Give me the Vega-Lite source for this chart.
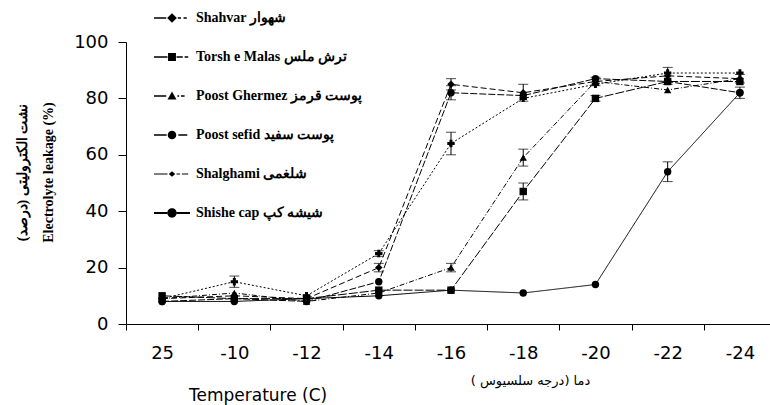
{
  "$schema": "https://vega.github.io/schema/vega-lite/v6.json",
  "autosize": {"type": "none"},
  "width": 644,
  "height": 282,
  "padding": {"left": 126, "top": 42, "right": 0, "bottom": 81},
  "background": "white",
  "config": {"view": {"stroke": null}},
  "title": {"text": "Temperature (C)", "orient": "bottom", "anchor": "start", "dx": 174, "offset": 1, "font": "DejaVu Sans", "fontSize": 17, "fontWeight": "normal", "color": "black"},
  "data": {"values": [
    {"series": "Shahvar  شهوار", "t": "25", "v": 9, "err": 0},
    {"series": "Shahvar  شهوار", "t": "-10", "v": 10, "err": 0},
    {"series": "Shahvar  شهوار", "t": "-12", "v": 9, "err": 0},
    {"series": "Shahvar  شهوار", "t": "-14", "v": 20, "err": 1.5},
    {"series": "Shahvar  شهوار", "t": "-16", "v": 85, "err": 2},
    {"series": "Shahvar  شهوار", "t": "-18", "v": 82, "err": 3},
    {"series": "Shahvar  شهوار", "t": "-20", "v": 86, "err": 1.5},
    {"series": "Shahvar  شهوار", "t": "-22", "v": 88, "err": 3},
    {"series": "Shahvar  شهوار", "t": "-24", "v": 87, "err": 1.5},
    {"series": "Torsh e Malas  ترش ملس", "t": "25", "v": 10, "err": 0},
    {"series": "Torsh e Malas  ترش ملس", "t": "-10", "v": 9, "err": 0},
    {"series": "Torsh e Malas  ترش ملس", "t": "-12", "v": 9, "err": 0},
    {"series": "Torsh e Malas  ترش ملس", "t": "-14", "v": 12, "err": 0},
    {"series": "Torsh e Malas  ترش ملس", "t": "-16", "v": 12, "err": 0},
    {"series": "Torsh e Malas  ترش ملس", "t": "-18", "v": 47, "err": 3},
    {"series": "Torsh e Malas  ترش ملس", "t": "-20", "v": 80, "err": 1},
    {"series": "Torsh e Malas  ترش ملس", "t": "-22", "v": 86, "err": 0},
    {"series": "Torsh e Malas  ترش ملس", "t": "-24", "v": 86, "err": 0},
    {"series": "Poost Ghermez  پوست قرمز", "t": "25", "v": 9, "err": 0},
    {"series": "Poost Ghermez  پوست قرمز", "t": "-10", "v": 11, "err": 0},
    {"series": "Poost Ghermez  پوست قرمز", "t": "-12", "v": 8, "err": 0},
    {"series": "Poost Ghermez  پوست قرمز", "t": "-14", "v": 11, "err": 0},
    {"series": "Poost Ghermez  پوست قرمز", "t": "-16", "v": 20, "err": 1.5},
    {"series": "Poost Ghermez  پوست قرمز", "t": "-18", "v": 59, "err": 3},
    {"series": "Poost Ghermez  پوست قرمز", "t": "-20", "v": 86, "err": 0},
    {"series": "Poost Ghermez  پوست قرمز", "t": "-22", "v": 83, "err": 0},
    {"series": "Poost Ghermez  پوست قرمز", "t": "-24", "v": 87, "err": 0},
    {"series": "Poost sefid  پوست سفید", "t": "25", "v": 8, "err": 0},
    {"series": "Poost sefid  پوست سفید", "t": "-10", "v": 9, "err": 0},
    {"series": "Poost sefid  پوست سفید", "t": "-12", "v": 8, "err": 0},
    {"series": "Poost sefid  پوست سفید", "t": "-14", "v": 15, "err": 0},
    {"series": "Poost sefid  پوست سفید", "t": "-16", "v": 82, "err": 2.5},
    {"series": "Poost sefid  پوست سفید", "t": "-18", "v": 81, "err": 0},
    {"series": "Poost sefid  پوست سفید", "t": "-20", "v": 87, "err": 0},
    {"series": "Poost sefid  پوست سفید", "t": "-22", "v": 86, "err": 0},
    {"series": "Poost sefid  پوست سفید", "t": "-24", "v": 82, "err": 2},
    {"series": "Shalghami  شلغمی", "t": "25", "v": 9, "err": 0},
    {"series": "Shalghami  شلغمی", "t": "-10", "v": 15, "err": 2},
    {"series": "Shalghami  شلغمی", "t": "-12", "v": 10, "err": 0},
    {"series": "Shalghami  شلغمی", "t": "-14", "v": 25, "err": 1},
    {"series": "Shalghami  شلغمی", "t": "-16", "v": 64, "err": 4},
    {"series": "Shalghami  شلغمی", "t": "-18", "v": 80, "err": 0},
    {"series": "Shalghami  شلغمی", "t": "-20", "v": 85, "err": 0},
    {"series": "Shalghami  شلغمی", "t": "-22", "v": 89, "err": 0},
    {"series": "Shalghami  شلغمی", "t": "-24", "v": 89, "err": 0},
    {"series": "Shishe cap  شیشه کپ", "t": "25", "v": 8, "err": 0},
    {"series": "Shishe cap  شیشه کپ", "t": "-10", "v": 8, "err": 0},
    {"series": "Shishe cap  شیشه کپ", "t": "-12", "v": 9, "err": 0},
    {"series": "Shishe cap  شیشه کپ", "t": "-14", "v": 10, "err": 0},
    {"series": "Shishe cap  شیشه کپ", "t": "-16", "v": 12, "err": 0},
    {"series": "Shishe cap  شیشه کپ", "t": "-18", "v": 11, "err": 0},
    {"series": "Shishe cap  شیشه کپ", "t": "-20", "v": 14, "err": 0},
    {"series": "Shishe cap  شیشه کپ", "t": "-22", "v": 54, "err": 3.5},
    {"series": "Shishe cap  شیشه کپ", "t": "-24", "v": 82, "err": 0}
  ]},
  "encoding": {
    "x": {
      "field": "t", "type": "ordinal",
      "scale": {"type": "band", "domain": ["25", "-10", "-12", "-14", "-16", "-18", "-20", "-22", "-24"], "range": [0, 650], "paddingInner": 0, "paddingOuter": 0},
      "axis": {
        "title": "دما (درجه سلسیوس )", "titleX": 404, "titleY": 56, "titleBaseline": "middle", "titleAlign": "center",
        "titleFont": "DejaVu Sans", "titleFontSize": 13, "titleFontWeight": "normal", "titleColor": "black",
        "labelAngle": 0, "labelFont": "DejaVu Sans", "labelFontSize": 18, "labelColor": "black", "labelPadding": 14,
        "tickBand": "extent", "tickSize": 6, "tickColor": "black", "domainColor": "black", "grid": false
      }
    },
    "y": {
      "field": "v", "type": "quantitative",
      "scale": {"domain": [0, 100], "nice": false},
      "axis": {
        "values": [0, 20, 40, 60, 80, 100],
        "title": ["نشت الکترولیتی (درصد)", "Electrolyte leakage (%)"],
        "titleX": -104, "titleY": 130, "titleAngle": -90, "titleBaseline": "middle", "titleAlign": "center", "titleLineHeight": 26,
        "titleFont": "Liberation Serif", "titleFontSize": 14, "titleFontWeight": "bold", "titleColor": "black",
        "labelFont": "DejaVu Sans", "labelFontSize": 18, "labelColor": "black", "labelPadding": 10,
        "tickSize": 8, "tickColor": "black", "domainColor": "black", "grid": false
      }
    }
  },
  "layer": [
    {
      "mark": {"type": "line", "color": "black", "strokeWidth": 1},
      "encoding": {
        "detail": {"field": "series"},
        "strokeDash": {
          "field": "series", "type": "nominal", "legend": null,
          "scale": {"domain": ["Shahvar  شهوار", "Torsh e Malas  ترش ملس", "Poost Ghermez  پوست قرمز", "Poost sefid  پوست سفید", "Shalghami  شلغمی", "Shishe cap  شیشه کپ"],
                    "range": [[6, 3], [9, 2], [5, 2, 1, 2], [7, 2], [2, 2], [1, 0]]}
        }
      }
    },
    {
      "transform": [{"filter": "datum.err > 0"}],
      "mark": {"type": "errorbar", "color": "black", "ticks": {"size": 10, "color": "black"}},
      "encoding": {"yError": {"field": "err"}}
    },
    {
      "mark": {"type": "point", "filled": true, "color": "black", "size": 55, "opacity": 1},
      "encoding": {
        "shape": {
          "field": "series", "type": "nominal", "legend": null,
          "scale": {"domain": ["Shahvar  شهوار", "Torsh e Malas  ترش ملس", "Poost Ghermez  پوست قرمز", "Poost sefid  پوست سفید", "Shalghami  شلغمی", "Shishe cap  شیشه کپ"],
                    "range": ["diamond", "square", "triangle-up", "circle", "cross", "circle"]}
        }
      }
    },
    {
      "mark": {"type": "point", "filled": true, "color": "black", "size": 1296, "opacity": 0},
      "encoding": {
        "shape": {
          "field": "series", "type": "nominal",
          "scale": {"domain": ["Shahvar  شهوار", "Torsh e Malas  ترش ملس", "Poost Ghermez  پوست قرمز", "Poost sefid  پوست سفید", "Shalghami  شلغمی", "Shishe cap  شیشه کپ"],
                    "range": [
                      "M-1,-0.035H-0.32V0.035H-1Z M-0.27,0L0,-0.27L0.27,0L0,0.27Z M0.32,-0.035H0.5V0.035H0.32Z M0.64,-0.035H0.82V0.035H0.64Z",
                      "M-1,-0.035H-0.25V0.035H-1Z M-0.22,-0.22H0.22V0.22H-0.22Z M0.25,-0.035H0.6V0.035H0.25Z M0.7,-0.035H0.9V0.035H0.7Z",
                      "M-1,-0.035H-0.32V0.035H-1Z M0,-0.25L0.25,0.2L-0.25,0.2Z M0.3,-0.035H0.4V0.035H0.3Z M0.5,-0.035H0.7V0.035H0.5Z",
                      "M-1,-0.035H-0.3V0.035H-1Z M-0.24,0A0.24,0.24 0 1,0 0.24,0A0.24,0.24 0 1,0 -0.24,0Z M0.35,-0.035H0.85V0.035H0.35Z",
                      "M-1,-0.03H-0.25V0.03H-1Z M-0.18,0L0,-0.15L0.18,0L0,0.15Z M0.25,-0.03H0.45V0.03H0.25Z M0.55,-0.03H0.9V0.03H0.55Z",
                      "M-1,-0.05H-0.25V0.05H-1Z M-0.26,0A0.26,0.26 0 1,0 0.26,0A0.26,0.26 0 1,0 -0.26,0Z M0.25,-0.05H1V0.05H0.25Z"
                    ]},
          "legend": {
            "title": null, "orient": "none", "legendX": 28, "legendY": -42,
            "symbolSize": 1296, "symbolOpacity": 1, "symbolFillColor": "black", "symbolStrokeColor": "black", "symbolStrokeWidth": 0,
            "rowPadding": 14, "labelOffset": 6, "labelLimit": 400,
            "labelFont": "Liberation Serif", "labelFontSize": 14, "labelFontWeight": "bold", "labelColor": "black"
          }
        }
      }
    }
  ],
  "resolve": {"scale": {"shape": "independent"}, "legend": {"shape": "independent"}}
}
